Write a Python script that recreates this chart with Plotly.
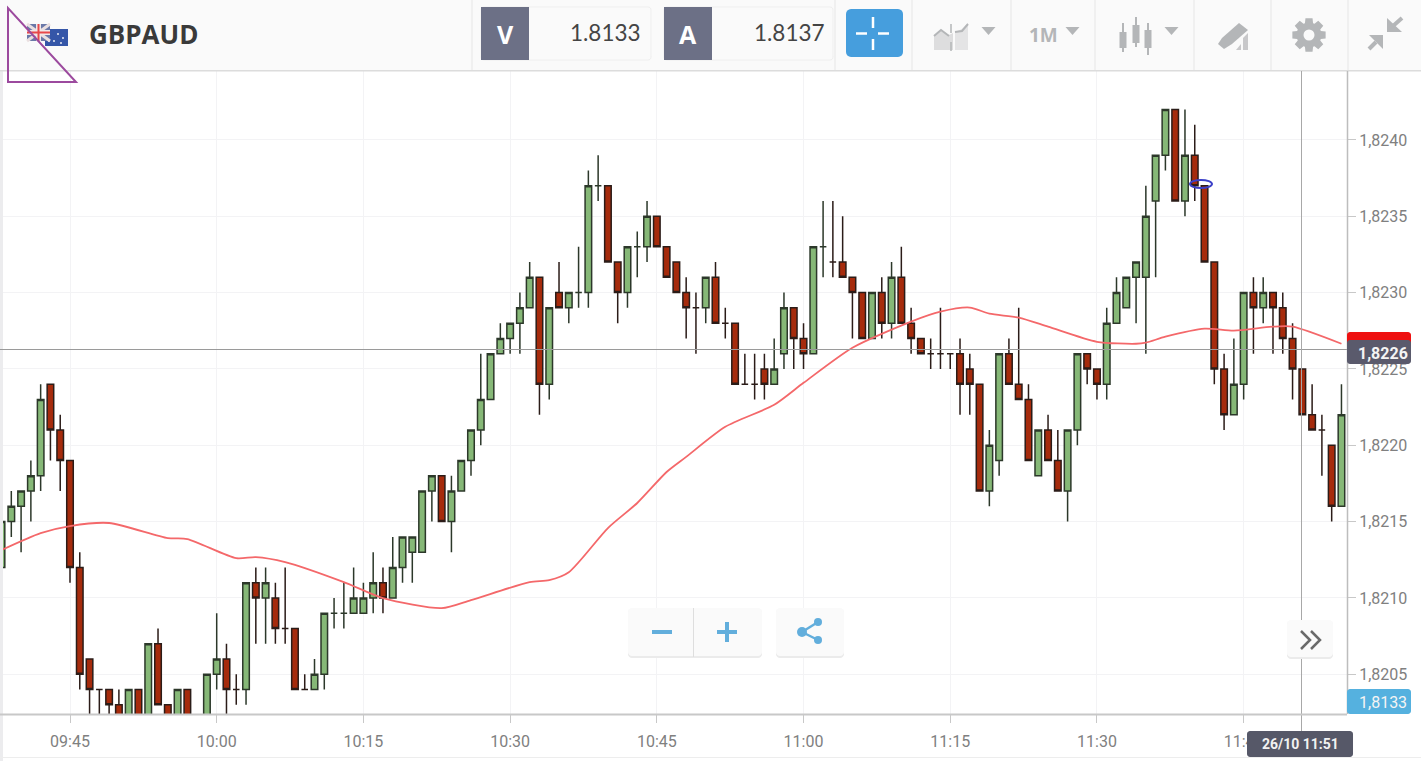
import math
import pandas as pd
import plotly.graph_objects as go

# candle data, in pips above 1.8200, one candle a minute starting 09:38
opens = [12,15,16,17,18,24,21,19,12,6,4,4,3,2,4,2,7,3,2,4,2,2,5,6,4,4,11,10,10,8,8,4,4,5,9,9,
         9,9,10,11,10,12,13,13,17,18,15,17,19,21,23,26,27,28,29,31,24,30,29,30,30,37,37,32,30,33,33,35,33,
         32,30,29,29,31,28,28,24,24,25,24,26,29,27,26,33,32,32,31,30,27,30,28,31,28,27,26,26,26,26,25,24,17,
         19,26,24,23,18,21,19,17,21,26,25,24,28,29,31,31,36,39,42,36,39,37,32,25,22,24,30,29,30,29,27,25,22,21,20,16]
highs = [15,17,17,19,24,24,22,19,13,6,4,4,4,4,4,7,8,3,4,4,2,5,9,7,5,11,12,12,11,12,8,5,6,9,10,11,
         12,11,13,12,14,14,14,17,18,18,18,19,21,26,26,28,28,30,32,31,29,32,30,33,38,39,37,32,33,34,36,35,33,
         32,31,30,31,32,29,28,26,26,26,27,30,29,28,33,36,36,35,31,30,30,31,32,33,29,27,27,29,26,27,26,24,21,
         26,27,29,24,21,22,21,21,26,26,25,29,31,31,32,37,39,42,42,42,41,37,32,26,27,30,31,31,30,30,28,25,24,22,20,24]
lows = [10,14,13,15,17,19,17,11,4,2,2,2,2,2,2,2,3,2,2,2,2,2,4,2,3,3,7,7,7,7,4,4,4,4,8,8,
        9,9,9,9,10,11,11,13,15,15,13,17,18,20,23,26,26,26,29,22,23,29,28,29,29,36,32,28,29,31,32,33,31,
        30,27,26,28,28,27,24,24,23,23,24,25,25,25,26,31,31,31,27,27,27,27,27,28,26,26,25,25,25,22,22,17,16,
        18,24,23,19,18,19,17,15,20,24,23,23,28,29,28,26,31,38,36,35,36,32,24,21,22,23,26,28,26,26,23,22,21,18,15,16]
closes = [15,16,17,18,23,21,19,12,5,4,4,3,2,4,2,7,3,2,4,2,2,5,6,4,4,11,10,11,8,8,4,4,5,9,9,9,
          10,10,11,10,12,14,14,17,18,15,17,19,21,23,26,27,28,29,31,24,29,29,30,30,37,37,32,30,33,33,35,33,31,
          30,29,29,31,28,28,24,24,24,24,25,29,27,26,33,33,32,31,30,27,30,28,31,28,27,26,26,26,26,24,24,17,20,
          26,24,23,19,21,19,17,21,26,25,24,28,30,31,32,35,39,42,36,39,37,32,25,22,24,30,29,30,29,27,25,22,21,21,16,22]

# moving average, read at these minutes after 09:45
ma_minutes = [-7,-3,0,4,10,12,17,19,22,28,32,38,41,47,49,51,55,58,61,63,67,72,75,80,86,89,92,94,97,100,105,109,110,112,116,119,123,125,130]
ma_pips = [13.14,14.25,14.71,14.91,13.92,13.86,12.61,12.68,12.35,11.04,9.99,9.33,9.86,11.04,11.17,11.69,14.58,16.22,18.25,
           19.24,21.21,22.65,24.09,26.39,28.10,28.75,29.02,28.62,28.36,27.77,26.78,26.65,26.72,27.11,27.64,27.51,27.77,27.77,26.65]

x_ticks = ["09:45","10:00","10:15","10:30","10:45","11:00","11:15","11:30","11:45"]
y_ticks = [1.8205,1.8210,1.8215,1.8220,1.8225,1.8230,1.8235,1.8240]
y_labels = ["1,8205","1,8210","1,8215","1,8220","1,8225","1,8230","1,8235","1,8240"]

day = "2018-10-26 "
W, H = 1421, 761

times = pd.date_range(day + "09:38", periods=len(opens), freq="min")
start = pd.Timestamp(day + "09:45")
ma_times = [start + pd.Timedelta(minutes=m) for m in ma_minutes]

def price(vals):
    return [round(1.82 + v / 10000, 6) for v in vals]

fig = go.Figure()

fig.add_trace(go.Candlestick(x=times, open=price(opens), high=price(highs), low=price(lows), close=price(closes),
                             increasing=dict(fillcolor="#86B877", line=dict(color="#2C382A", width=1.5)),
                             decreasing=dict(fillcolor="#A62B0C", line=dict(color="#2B1C18", width=1.5)),
                             whiskerwidth=0, showlegend=False))

fig.add_trace(go.Scatter(x=ma_times, y=price(ma_pips), mode="lines", showlegend=False,
                         line=dict(color="#F4686A", width=1.8, shape="spline", smoothing=0.7)))

# everything round the chart is placed in screen pixels
def fx(x):
    return x / W

def fy(y):
    return 1 - y / H

shapes = []
notes = []

def rect(x0, y0, x1, y1, fill, line=None, width=1):
    shapes.append(dict(type="rect", xref="paper", yref="paper", x0=fx(x0), x1=fx(x1), y0=fy(y0), y1=fy(y1),
                       fillcolor=fill, line=dict(color=line or fill, width=width if line else 0)))

def seg(x0, y0, x1, y1, color, width=1):
    shapes.append(dict(type="line", xref="paper", yref="paper", x0=fx(x0), x1=fx(x1), y0=fy(y0), y1=fy(y1),
                       line=dict(color=color, width=width)))

def poly(points, fill=None, line=None, width=1, closed=True):
    p = "M " + " L ".join(f"{fx(a):.5f},{fy(b):.5f}" for a, b in points) + (" Z" if closed else "")
    shapes.append(dict(type="path", xref="paper", yref="paper", path=p, fillcolor=fill or "rgba(0,0,0,0)",
                       line=dict(color=line or "rgba(0,0,0,0)", width=width if line else 0)))

def circle(cx, cy, rx, ry, fill=None, line=None, width=1):
    shapes.append(dict(type="circle", xref="paper", yref="paper", x0=fx(cx - rx), x1=fx(cx + rx), y0=fy(cy + ry), y1=fy(cy - ry),
                       fillcolor=fill or "rgba(0,0,0,0)", line=dict(color=line or "rgba(0,0,0,0)", width=width if line else 0)))

def rrect(x0, y0, x1, y1, r, fill, line=None):
    pts = []
    for cx, cy, a0 in [(x1 - r, y0 + r, -90), (x1 - r, y1 - r, 0), (x0 + r, y1 - r, 90), (x0 + r, y0 + r, 180)]:
        for k in range(5):
            a = math.radians(a0 + k * 22.5)
            pts.append((cx + r * math.cos(a), cy + r * math.sin(a)))
    poly(pts, fill=fill, line=line)

def text(x, y, s, size, color, font="Open Sans", anchor="center", bold=False):
    notes.append(dict(xref="paper", yref="paper", x=fx(x), y=fy(y), text=f"<b>{s}</b>" if bold else s, showarrow=False,
                      xanchor=anchor, yanchor="middle", font=dict(family=font, size=size, color=color)))

ICON = "#B4B6B8"

# left edge shadow and lower rules
rect(0, 70, 3, 761, "#ECECEE")
rect(0, 757, W, 758, "#EDEDED")

# header bar
rect(0, 0, W, 70, "#FAFAFA")
rect(0, 70, W, 71.5, "#DCDCDC")
for sx in [472, 835, 912, 1011, 1095, 1194, 1271, 1348]:
    seg(sx, 0, sx, 70, "#E6E6E6")

# flags
rect(45, 29, 68, 46, "#3556A8")
for sx, sy in [(58, 34), (63, 38), (54, 41), (61, 43), (49, 41)]:
    circle(sx, sy, 1, 1, fill="#E6EAF4")
rect(27, 24, 50, 41, "#6A78A8")
seg(27, 24, 50, 41, "#EADFE0", 3)
seg(50, 24, 27, 41, "#EADFE0", 3)
rect(36, 24, 41, 41, "#F0E8E8")
rect(27, 30, 50, 35, "#F0E8E8")
rect(37.5, 24, 39.5, 41, "#E8484A")
rect(27, 31.5, 50, 33.5, "#E8484A")
text(87, 34, "GBPAUD", 26, "#3A3A3A", anchor="left", bold=True)

# bid and ask boxes
rrect(481, 7, 651, 60, 3, "#FAFAFA", "#EFEFEF")
rrect(664, 7, 833, 60, 3, "#FAFAFA", "#EFEFEF")
rect(481, 7, 529, 60, "#6C7086")
rect(664, 7, 712, 60, "#6C7086")
text(505, 34, "V", 25, "#FFFFFF", bold=True)
text(688, 34, "A", 25, "#FFFFFF", bold=True)
text(643, 33, "1.8133", 22.5, "#444444", font="Lato", anchor="right")
text(827, 33, "1.8137", 22.5, "#444444", font="Lato", anchor="right")

# crosshair button
rrect(846, 9, 903, 57, 5, "#469EDD")
for a, b, c, d in [(873, 17, 873, 28), (873, 39, 873, 50), (856, 33.5, 867, 33.5), (878, 33.5, 889, 33.5)]:
    seg(a, b, c, d, "#FFFFFF", 2.5)

# chart type icon
poly([(934, 50), (934, 36), (941, 30), (949, 35), (953, 33), (953, 50)], fill="#DDDDDE")
poly([(955, 50), (955, 32), (962, 29), (968, 23), (968, 50)], fill="#E4E4E5")
poly([(934, 36), (941, 30), (949, 36)], line=ICON, width=2, closed=False)
poly([(955, 32), (962, 31), (968, 24)], line=ICON, width=2, closed=False)
shapes.append(dict(type="line", xref="paper", yref="paper", x0=fx(951), x1=fx(951), y0=fy(24), y1=fy(52),
                   line=dict(color=ICON, width=1.5, dash="dash")))

for cx in [988.5, 1072.5, 1171.5]:
    poly([(cx - 7, 27), (cx + 7, 27), (cx, 35)], fill=ICON)

text(1043, 35, "1M", 19, ICON, anchor="center", bold=True)

# candles icon
for cx, t, b0, b1, w in [(1123, 23, 32, 48, 52), (1136, 17, 25, 43, 47), (1148, 23, 30, 48, 55)]:
    seg(cx, t, cx, w, ICON, 2)
    rect(cx - 3.5, b0, cx + 3.5, b1, ICON)

# pencil icon
poly([(1218, 44), (1222, 38), (1239, 23), (1248, 30), (1232, 44), (1224, 49)], fill=ICON)
poly([(1236, 50), (1241, 44), (1241, 50)], fill="#C8C8CA")
poly([(1243, 50), (1243, 38), (1248, 33), (1248, 50)], fill="#C8C8CA")

# gear icon
gear = []
for k in range(8):
    a = math.radians(k * 45)
    for da, r in [(-19, 12.5), (-12, 17), (12, 17), (19, 12.5)]:
        gear.append((1309 + r * math.cos(a + math.radians(da)), 35 + r * math.sin(a + math.radians(da))))
poly(gear, fill=ICON)
circle(1309, 35, 5.5, 5.5, fill="#FAFAFA")

# shrink icon
poly([(1387, 32), (1387, 18), (1402, 32)], fill=ICON)
seg(1393, 26, 1402, 18, ICON, 4)
poly([(1383, 35), (1369, 35), (1383, 49)], fill=ICON)
seg(1376, 42, 1369, 49, ICON, 4)

# crosshair lines and the right hand axis line
seg(0, 349.5, 1347, 349.5, "#9A9A9A", 1)
seg(1301.5, 71, 1301.5, 731, "#A8A8A8", 1)
seg(1347.5, 71, 1347.5, 714, "#BDBDBD", 1.5)
seg(0, 714.5, 1347, 714.5, "#C8C8C8", 2)

# price badges
rrect(1347, 332, 1411, 348, 3, "#EE1010")
rrect(1347, 340, 1411, 364, 3, "#5A5A6C")
text(1383, 353, "1,8226", 16, "#F4F4F4", font="Roboto", bold=True)
rrect(1347, 689, 1411, 714, 3, "#55B1DF")
text(1383, 702, "1,8133", 16, "#F4F4F4", font="Roboto")
rrect(1247, 731, 1353, 757, 3, "#565868")
text(1300, 744, "26/10 11:51", 14, "#F2F2F2", font="Roboto", bold=True)

# zoom and share buttons
rrect(628, 609, 762, 658, 4, "#EBEBEB")
rrect(628, 608, 762, 656, 4, "#FAFAFA")
seg(693.5, 608, 693.5, 657, "#DEDEDE")
seg(652, 632, 672, 632, "#62AEDC", 4)
seg(717, 632, 737, 632, "#62AEDC", 4)
seg(727, 622, 727, 642, "#62AEDC", 4)
rrect(776, 609, 844, 658, 4, "#EBEBEB")
rrect(776, 608, 844, 656, 4, "#FAFAFA")
seg(802, 632, 818, 622, "#62AEDC", 2.5)
seg(802, 632, 818, 640, "#62AEDC", 2.5)
circle(802, 632, 5, 5, fill="#62AEDC")
circle(818, 622, 4, 4, fill="#62AEDC")
circle(818, 640, 4, 4, fill="#62AEDC")

# scroll button
rrect(1287, 621, 1333, 659, 4, "#EBEBEB")
rrect(1287, 620, 1333, 657, 4, "#FAFAFA")
poly([(1301, 631), (1310, 640), (1301, 649)], line="#6A6A6A", width=2.5, closed=False)
poly([(1311, 631), (1320, 640), (1311, 649)], line="#6A6A6A", width=2.5, closed=False)

# markings drawn over the screenshot
poly([(8, 8), (8, 82), (76, 82)], line="#9C4A9E", width=2)
circle(1201, 184, 11, 4, line="#3B40C8", width=2)

fig.update_layout(width=W, height=H, margin=dict(l=0, r=0, t=0, b=0), autosize=False,
                  paper_bgcolor="#FFFFFF", plot_bgcolor="#FFFFFF", boxgap=0.33, boxgroupgap=0,
                  shapes=shapes, annotations=notes, showlegend=False)

fig.update_xaxes(domain=[0, 1347 / W], type="date", rangeslider_visible=False,
                 range=[day + "09:37:50.6", day + "11:55:34"],
                 tickvals=[day + t for t in x_ticks], ticktext=x_ticks,
                 tickfont=dict(family="Roboto", size=16, color="#808080"),
                 ticks="outside", ticklen=8, tickcolor="#C8C8C8", ticklabelstandoff=5,
                 showgrid=True, gridcolor="#F3F3F5", zeroline=False)
fig.update_yaxes(domain=[1 - 714 / H, 1 - 70 / H], side="right",
                 range=[1.82024, 1.824458],
                 tickvals=y_ticks, ticktext=y_labels,
                 tickfont=dict(family="Roboto", size=16, color="#808080"),
                 ticks="outside", ticklen=8, tickcolor="#C8C8C8",
                 showgrid=True, gridcolor="#F3F3F5", zeroline=False)

fig.write_html("out.html", config=dict(displayModeBar=False), post_script="document.body.style.margin='0';")
